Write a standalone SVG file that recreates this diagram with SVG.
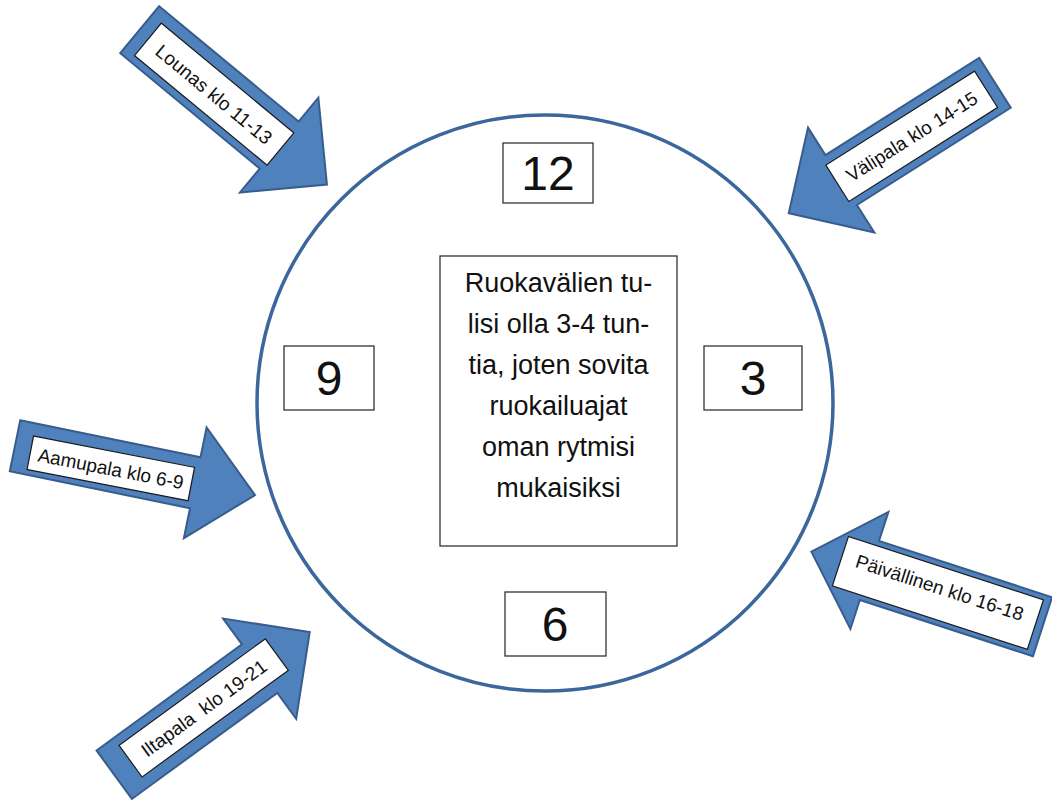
<svg xmlns="http://www.w3.org/2000/svg" width="1052" height="801" viewBox="0 0 1052 801">
<style>
.arrow{fill:#4f81bd;stroke:#385d8a;stroke-width:2;stroke-linejoin:miter}
.lbl{fill:#fff;stroke:#1a1a1a;stroke-width:1.2}
.lt{font-family:"Liberation Sans",Arial,sans-serif;font-size:19px;fill:#111;text-anchor:middle}
.box{fill:#fff;stroke:#333;stroke-width:1.3}
.num{font-family:"Liberation Sans",Arial,sans-serif;font-size:48px;fill:#111;text-anchor:middle}
.ct{font-family:"Liberation Sans",Arial,sans-serif;font-size:27px;fill:#111;text-anchor:middle}
</style>
<rect width="1052" height="801" fill="#fff"/>
<g id="clock">
<circle cx="545" cy="403" r="288" fill="none" stroke="#3b679c" stroke-width="3.5"/>
</g>
<g id="n12"><rect class="box" x="503" y="143" width="90" height="60"/><text class="num" x="548" y="190">12</text></g>
<g id="n9"><rect class="box" x="284" y="346" width="90" height="64"/><text class="num" x="329" y="395">9</text></g>
<g id="n3"><rect class="box" x="704" y="346" width="98" height="64"/><text class="num" x="753" y="395">3</text></g>
<g id="n6"><rect class="box" x="505" y="592" width="101" height="64"/><text class="num" x="555" y="641">6</text></g>
<g id="center">
<rect class="box" x="440" y="256" width="237" height="290"/>
<text class="ct" x="558.5" y="292">Ruokavälien tu-</text>
<text class="ct" x="558.5" y="333">lisi olla 3-4 tun-</text>
<text class="ct" x="558.5" y="374">tia, joten sovita</text>
<text class="ct" x="558.5" y="415">ruokailuajat</text>
<text class="ct" x="558.5" y="456">oman rytmisi</text>
<text class="ct" x="558.5" y="497">mukaisiksi</text>
</g>
<g id="connectors">
<g id="arrow-lounas">
<polygon class="arrow" transform="translate(139.7,29.7) rotate(39.6)" points="0,-30.5 181,-30.5 181,-61.5 243,0 181,61.5 181,30.5 0,30.5"/>
<g transform="translate(214.2,94.2) rotate(39.6)"><rect class="lbl" x="-86" y="-21" width="172" height="42"/><text class="lt" x="0" y="7">Lounas klo 11-13</text></g>
</g>
<g id="arrow-valipala">
<polygon class="arrow" transform="translate(995,82.8) rotate(147.7)" points="0,-29.5 182,-29.5 182,-62 244,0 182,62 182,29.5 0,29.5"/>
<g transform="translate(911.7,136.3) rotate(-32.3)"><rect class="lbl" x="-88" y="-21.5" width="176" height="43"/><text class="lt" x="0" y="7">Välipala klo 14-15</text></g>
</g>
<g id="arrow-aamupala">
<polygon class="arrow" transform="translate(15,445.8) rotate(11.6)" points="0,-26 184,-26 184,-56.5 245,0 184,56.5 184,26 0,26"/>
<g transform="translate(110.8,468.4) rotate(11)"><rect class="lbl" x="-82" y="-17" width="164" height="34"/><text class="lt" x="0" y="7">Aamupala klo 6-9</text></g>
</g>
<g id="arrow-paivallinen">
<polygon class="arrow" transform="translate(1042.5,626.7) rotate(198)" points="0,-31 182,-31 182,-61.5 243,0 182,61.5 182,31 0,31"/>
<g transform="translate(937.9,592.9) rotate(18)"><rect class="lbl" x="-102.5" y="-26" width="205" height="52"/><text class="lt" x="0" y="1">Päivällinen klo 16-18</text></g>
</g>
<g id="arrow-iltapala">
<polygon class="arrow" transform="translate(114.2,774.7) rotate(-36.1)" points="0,-30 180,-30 180,-62 242,0 180,62 180,30 0,30"/>
<g transform="translate(203.7,707.9) rotate(-36.1)"><rect class="lbl" x="-90.5" y="-19.5" width="181" height="39"/><text class="lt" x="0" y="7" xml:space="preserve">Iltapala  klo 19-21</text></g>
</g>
</g>
</svg>
